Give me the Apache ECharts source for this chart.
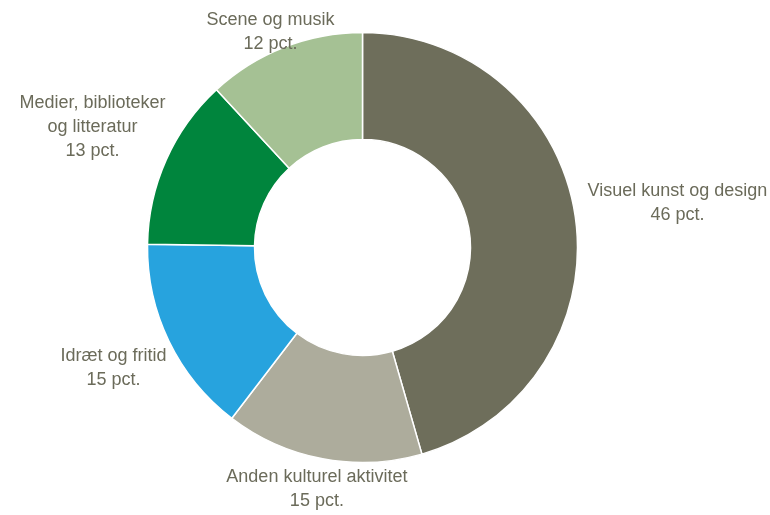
<!DOCTYPE html>
<html>
<head>
<meta charset="utf-8">
<script src="https://cdn.jsdelivr.net/npm/echarts@6/dist/echarts.min.js"></script>
<style>html,body{margin:0;padding:0;background:#fff}#c{width:770px;height:515px}</style>
</head>
<body>
<div id="c"></div>
<script>
var categories = ['Visuel kunst og design', 'Anden kulturel aktivitet', 'Idræt og fritid', 'Medier, biblioteker\nog litteratur', 'Scene og musik'];
var values = [46, 15, 15, 13, 12];
var colors = ['#6e6e5b', '#adac9c', '#27a3de', '#00853d', '#a5c194'];

var CX = 362.5, CY = 247.5, R_IN = 108, R_OUT = 215, GAP = 14, W = 770, H = 515;
var total = values.reduce(function (a, b) { return a + b; }, 0);
var mids = [];
(function () {
  var acc = 0;
  values.forEach(function (v) { mids.push((acc + v / 2) / total * 2 * Math.PI); acc += v; });
})();

var chart = echarts.init(document.getElementById('c'));
chart.setOption({
  animation: false,
  series: [{
    type: 'pie',
    center: [CX, CY],
    radius: [R_IN, R_OUT],
    startAngle: 90,
    clockwise: true,
    avoidLabelOverlap: false,
    itemStyle: { borderColor: '#ffffff', borderWidth: 1.5 },
    label: {
      show: true,
      position: 'outside',
      formatter: function (p) { return p.name + '\n' + p.value + ' pct.'; },
      color: '#6b6b5a',
      fontFamily: '"Liberation Sans", Arial, sans-serif',
      fontSize: 18,
      lineHeight: 24,
      align: 'center'
    },
    labelLine: { show: false },
    labelLayout: function (params) {
      var a = mids[params.dataIndex];
      var ux = Math.sin(a), uy = -Math.cos(a);
      var w = params.labelRect.width, h = params.labelRect.height;
      var d = R_OUT + GAP + Math.abs(ux) * w / 2;
      var x = CX + ux * d, y = CY + uy * d;
      y = Math.max(h / 2 + 8, Math.min(H - h / 2, y));
      return { x: x, y: y, align: 'center', verticalAlign: 'middle' };
    },
    data: categories.map(function (c, i) {
      return { name: c, value: values[i], itemStyle: { color: colors[i] } };
    })
  }]
});
</script>
</body>
</html>
